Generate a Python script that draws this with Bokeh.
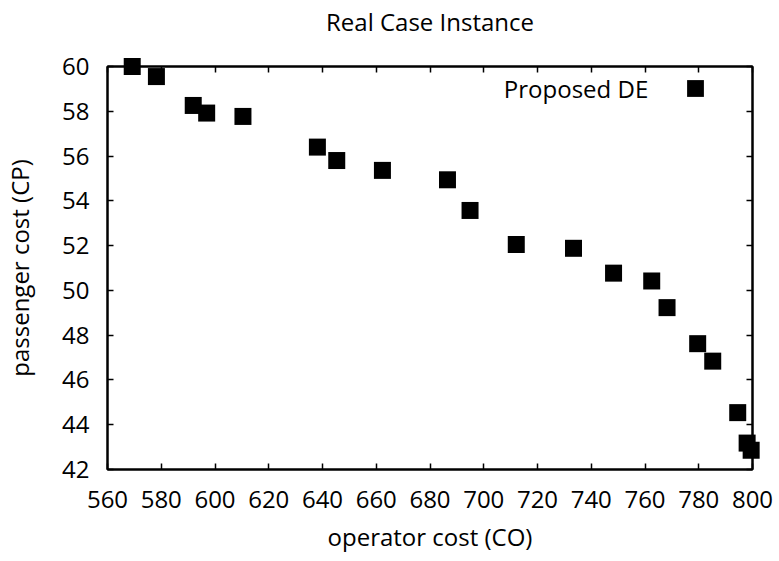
from bokeh.plotting import figure
from bokeh.models import (Range1d, LinearAxis, SingleIntervalTicker, Legend, LegendItem,
                          ColumnDataSource, Label)
from bokeh.embed import file_html
from bokeh.resources import INLINE

# ---- data ----
operator_cost = [569.2, 578.2, 591.9, 596.9, 610.4, 638.1, 645.3, 662.3, 686.5, 694.9,
                 712.1, 733.4, 748.3, 762.5, 768.2, 779.6, 785.2, 794.5, 798.0, 799.5]
passenger_cost = [60.0, 59.55, 58.26, 57.92, 57.77, 56.40, 55.80, 55.36, 54.94, 53.57,
                  52.05, 51.88, 50.77, 50.42, 49.23, 47.62, 46.84, 44.54, 43.18, 42.86]
series_name = "Proposed DE"
title_text = "Real Case Instance"
x_label = "operator cost (CO)"
y_label = "passenger cost (CP)"
x_min, x_max, x_step = 560, 800, 20
y_min, y_max, y_step = 42, 60, 2

FONT = "Open Sans"
FS = "24px"

p = figure(width=779, height=561, output_backend="svg", toolbar_location=None,
           x_range=Range1d(x_min, x_max), y_range=Range1d(y_min, y_max),
           min_border_left=107, min_border_right=27, min_border_top=66, min_border_bottom=92,
           x_axis_type=None, y_axis_type=None)
p.background_fill_color = "white"
p.border_fill_color = "white"
p.outline_line_color = "black"
p.outline_line_width = 2
p.xgrid.visible = False
p.ygrid.visible = False

p.title.text = title_text
p.title.align = "center"
p.title.standoff = 2
p.title.text_font = FONT
p.title.text_font_size = FS
p.title.text_font_style = "normal"
p.title.text_color = "black"


def style_axis(ax, show_labels):
    ax.axis_line_color = "black"
    ax.axis_line_width = 2
    ax.major_tick_in = 6
    ax.major_tick_out = 0
    ax.major_tick_line_width = 1.5
    ax.minor_tick_line_color = None
    if show_labels:
        ax.major_label_text_font = FONT
        ax.major_label_text_font_size = FS
        ax.major_label_text_color = "black"
        ax.axis_label_text_font = FONT
        ax.axis_label_text_font_size = FS
        ax.axis_label_text_font_style = "normal"
        ax.axis_label_text_color = "black"
    else:
        ax.major_label_text_font_size = "1px"
        ax.major_label_text_color = None
        ax.major_label_standoff = 0


xb = LinearAxis(ticker=SingleIntervalTicker(interval=x_step), axis_label=x_label)
style_axis(xb, True)
xb.major_label_standoff = 17
xb.axis_label_standoff = 9
p.add_layout(xb, "below")

yl = LinearAxis(ticker=SingleIntervalTicker(interval=y_step), axis_label=y_label)
style_axis(yl, True)
yl.major_label_standoff = 14
yl.axis_label_standoff = 23
p.add_layout(yl, "left")

xt = LinearAxis(ticker=SingleIntervalTicker(interval=x_step))
style_axis(xt, False)
p.add_layout(xt, "above")

# undrawn spacer axis: only reserves room between the frame and the title
gap = LinearAxis(ticker=SingleIntervalTicker(interval=x_step))
gap.axis_line_color = None
gap.major_tick_line_color = None
gap.minor_tick_line_color = None
gap.major_tick_in = 0
gap.major_tick_out = 24
gap.major_label_text_font_size = "1px"
gap.major_label_text_color = None
gap.major_label_standoff = 0
p.add_layout(gap, "above")

yr = LinearAxis(ticker=SingleIntervalTicker(interval=y_step))
style_axis(yr, False)
p.add_layout(yr, "right")

src = ColumnDataSource(dict(x=operator_cost, y=passenger_cost))
r = p.scatter("x", "y", source=src, marker="square", size=17,
              fill_color="black", line_color=None, level="overlay")

# legend key (glyph) drawn by Bokeh's legend; its text is drawn to the left of it
legend = Legend(items=[LegendItem(label=series_name, renderers=[r])],
                location=(567, 360), padding=0, margin=0, spacing=0,
                glyph_width=42, glyph_height=42, label_standoff=0,
                border_line_color=None, background_fill_alpha=0)
legend.label_text_font = FONT
legend.label_text_font_size = "1px"
legend.label_text_color = None
p.add_layout(legend, "center")

legend_text = Label(x=761.2, y=59.02, text=series_name, text_align="right",
                    text_baseline="middle", text_font=FONT, text_font_size=FS,
                    text_color="black")
p.add_layout(legend_text)

open("out.html", "w").write(file_html(p, INLINE))
